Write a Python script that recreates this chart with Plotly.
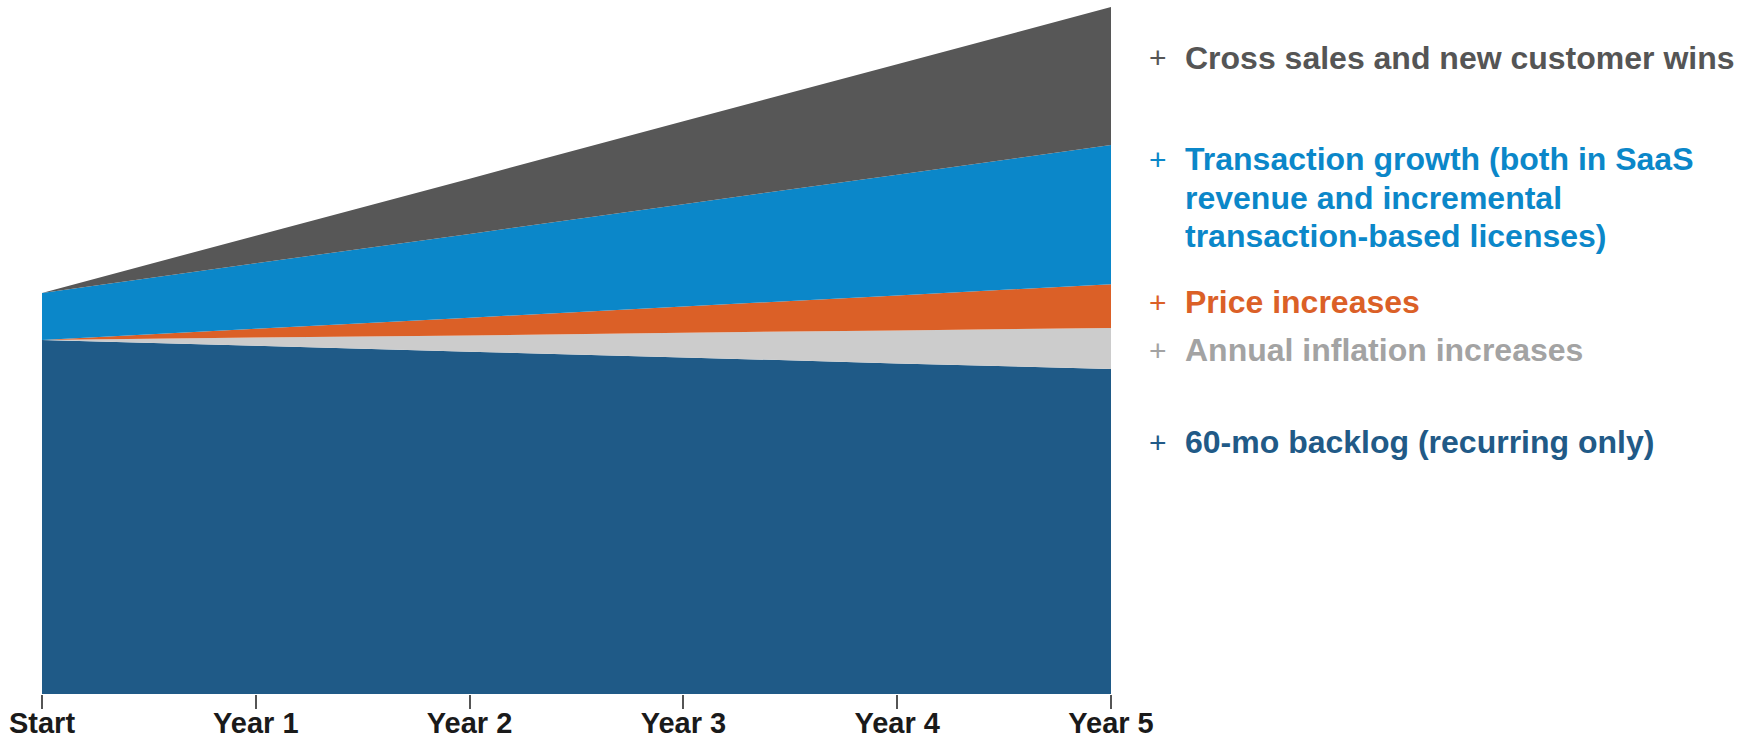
import plotly.graph_objects as go

W, H = 1752, 738
PLOT_L, PLOT_R, PLOT_T, PLOT_B = 42, 1111, 7, 694

periods = ["Start", "Year 1", "Year 2", "Year 3", "Year 4", "Year 5"]
backlog = [100.0, 98.4, 96.7, 95.1, 93.4, 91.8]
inflation = [0.0, 2.3, 4.6, 7.0, 9.3, 11.6]
price = [0.0, 2.5, 5.0, 7.4, 9.9, 12.4]
transaction = [13.3, 18.5, 23.7, 28.9, 34.1, 39.3]
cross_sales = [0.0, 7.8, 15.6, 23.4, 31.2, 39.0]

series = [
    ("60-mo backlog (recurring only)", backlog, "#1F5A87"),
    ("Annual inflation increases", inflation, "#CCCCCC"),
    ("Price increases", price, "#DB6027"),
    ("Transaction growth", transaction, "#0B87C9"),
    ("Cross sales and new customer wins", cross_sales, "#575757"),
]

xs = list(range(len(periods)))
fig = go.Figure()
for name, vals, col in series:
    fig.add_trace(go.Scatter(
        x=xs, y=vals, name=name, stackgroup="one", mode="none",
        fillcolor=col, line=dict(width=0), hoverinfo="skip",
    ))

total_end = sum(s[1][-1] for s in series)

labels = [
    (["Cross sales and new customer wins"], "#555555", 58),
    (["Transaction growth (both in SaaS", "revenue and incremental",
      "transaction-based licenses)"], "#0B87C9", 159),
    (["Price increases"], "#DB6027", 302),
    (["Annual inflation increases"], "#A3A3A3", 350),
    (["60-mo backlog (recurring only)"], "#215A87", 442),
]

def px_x(px):
    return (px - PLOT_L) / (PLOT_R - PLOT_L)

def px_y(py):
    return (PLOT_B - py) / (PLOT_B - PLOT_T)

FS = 32
LINE = 38.5
for lines, col, y0 in labels:
    fig.add_annotation(
        x=px_x(1158), y=px_y(y0), xref="paper", yref="paper",
        text="+", showarrow=False, xanchor="center", yanchor="middle",
        font=dict(family="Liberation Sans, Arial", size=FS - 2, color=col),
    )
    for i, ln in enumerate(lines):
        fig.add_annotation(
            x=px_x(1183), y=px_y(y0 + i * LINE), xref="paper", yref="paper",
            text="<b>" + ln + "</b>", showarrow=False, xanchor="left", yanchor="middle",
            font=dict(family="Liberation Sans, Arial", size=FS, color=col),
        )

fig.update_layout(
    width=W, height=H,
    margin=dict(l=PLOT_L, r=W - PLOT_R, t=PLOT_T, b=H - PLOT_B, pad=0, autoexpand=False),
    paper_bgcolor="white", plot_bgcolor="white",
    showlegend=False,
    xaxis=dict(
        range=[0, 5], tickmode="array", tickvals=xs, automargin=False,
        ticktext=["<b>" + p + "</b>" for p in periods],
        ticks="outside", ticklen=14, tickwidth=1.5, tickcolor="#555555",
        ticklabelstandoff=-11,
        showgrid=False, zeroline=False, showline=False,
        tickfont=dict(family="Liberation Sans, Arial", size=29, color="#1A1A1A"),
    ),
    yaxis=dict(range=[0, total_end], visible=False, showgrid=False, zeroline=False, automargin=False),
)

fig.write_html("out.html")
